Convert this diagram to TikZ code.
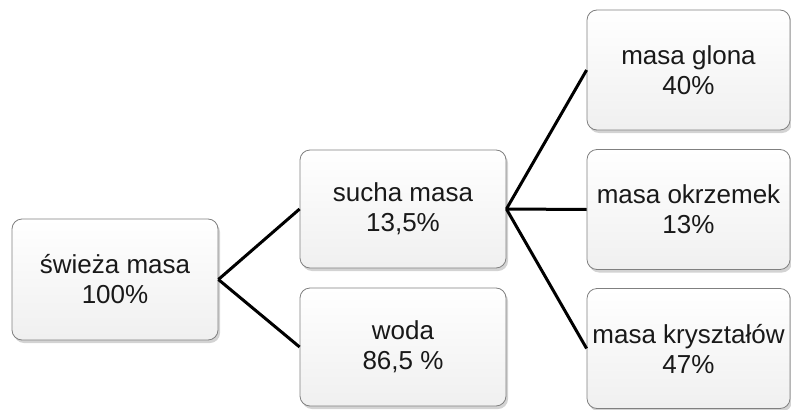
\documentclass[tikz,border=0pt]{standalone}
\usepackage{fontspec}
\setmainfont{Liberation Sans}
\usetikzlibrary{shadows}

\begin{document}
\begin{tikzpicture}
[every node/.style={inner sep=0pt, align=center, font=\fontsize{26}{30}\selectfont, text=black!90},
 box/.style={rectangle, rounded corners=10pt, draw=black!50, line width=0.8pt, top color=white, bottom color=black!6, drop shadow={shadow xshift=2pt, shadow yshift=-3pt, opacity=0.35}},
 link/.style={line width=3pt, color=black}]
\useasboundingbox (0pt, 0pt) rectangle (791pt, -409pt);
\node (1) [box, minimum width=206pt, minimum height=121pt] at (115.0pt, -279.5pt) {świeża masa\\100\%};
\node (2) [box, minimum width=206pt, minimum height=118pt] at (403.0pt, -209.0pt) {sucha masa\\13,5\%};
\node (3) [box, minimum width=206pt, minimum height=118pt] at (403.0pt, -347.0pt) {woda\\86,5 \%};
\node (4) [box, minimum width=203pt, minimum height=120pt] at (688.5pt, -70.0pt) {masa glona\\40\%};
\node (5) [box, minimum width=203pt, minimum height=120pt] at (688.5pt, -209.5pt) {masa okrzemek\\13\%};
\node (6) [box, minimum width=203pt, minimum height=120pt] at (688.5pt, -348.5pt) {masa kryształów\\47\%};
\draw [link] (1.east) -- (2.west);
\draw [link] (1.east) -- (3.west);
\draw [link] (2.east) -- (4.west);
\draw [link] (2.east) -- (5.west);
\draw [link] (2.east) -- (6.west);
\end{tikzpicture}
\end{document}
